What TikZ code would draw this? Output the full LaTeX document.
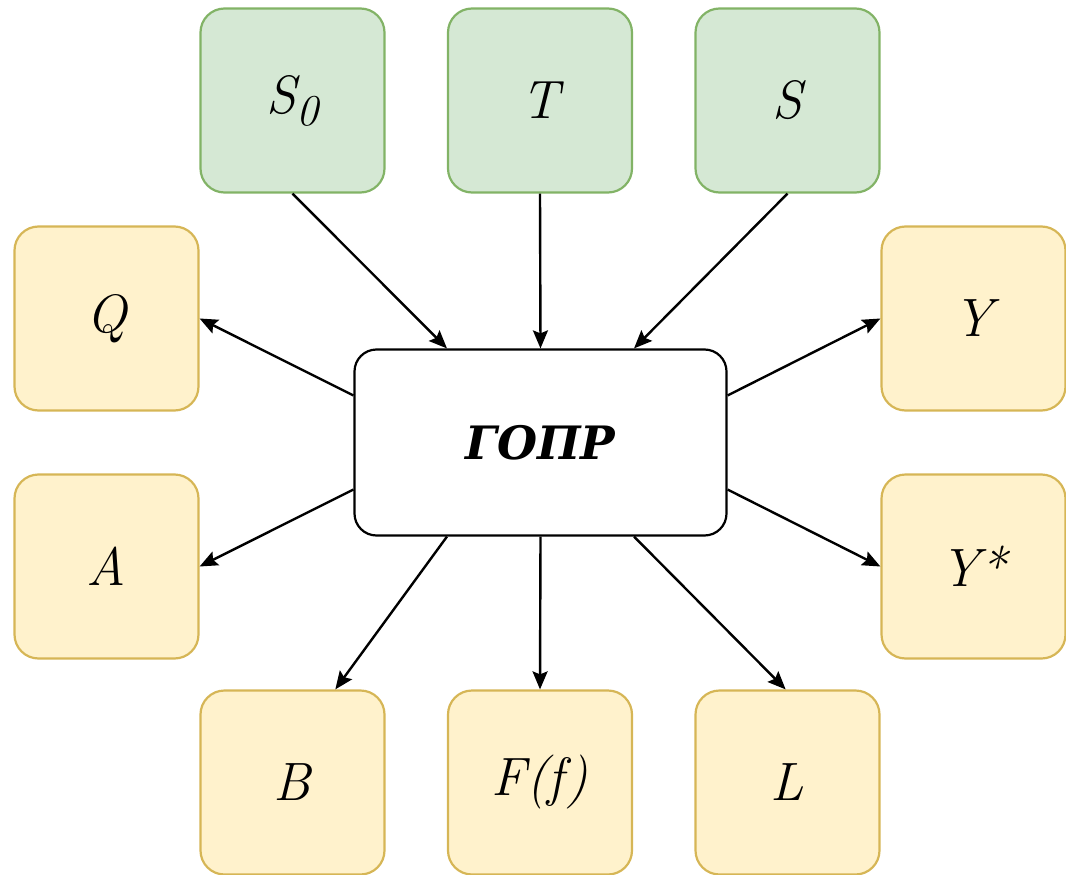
\documentclass[tikz,border=0pt]{standalone}
\usepackage{fontspec}
\newfontfamily\cyrfont{DejaVu Serif}
\usetikzlibrary{arrows.meta,calc}
\definecolor{gin}{HTML}{D5E8D4}
\definecolor{gdraw}{HTML}{82B366}
\definecolor{yin}{HTML}{FFF2CC}
\definecolor{ydraw}{HTML}{D6B656}
\begin{document}
\begin{tikzpicture}[x=1pt,y=-1pt,
  box/.style={rounded corners=24pt, minimum width=184pt, minimum height=184pt, line width=2.2pt, inner sep=0pt,
    font=\itshape\fontsize{54}{60}\selectfont},
  inbox/.style={box, fill=gin, draw=gdraw},
  outbox/.style={box, fill=yin, draw=ydraw},
  core/.style={rounded corners=22pt, minimum width=372pt, minimum height=186pt, draw=black, line width=2.2pt,
    fill=white, inner sep=0pt, font=\cyrfont\bfseries\itshape\fontsize{46}{60}\selectfont},
  conn/.style={line width=2.4pt, -{Stealth[length=18pt,width=15pt,inset=3pt]}}]
\useasboundingbox (0,0) rectangle (1066,875);
% input boxes
\node[inbox] (s0) at (292.5,100.5) {S\raisebox{-12pt}{\fontsize{44}{44}\selectfont 0}};
\node[inbox] (t)  at (540,100.5) {T};
\node[inbox] (s)  at (787.5,100.5) {S};
% output boxes
\node[outbox] (q)  at (106.5,318.5) {Q};
\node[outbox] (a)  at (106.5,566.5) {A};
\node[outbox] (y)  at (973.5,318.5) {Y};
\node[outbox] (ys) at (973.5,566.5) {Y*};
\node[outbox] (b)  at (292.5,782.5) {B};
\node[outbox] (f)  at (540,782.5) {F(f)};
\node[outbox] (l)  at (787.5,782.5) {L};
% core
\node[core] (c) at (540.5,442.5) {ГОПР};
% connectors in
\draw[conn] (s0.south) -- ($(c.north west)!0.25!(c.north east)$);
\draw[conn] (t.south) -- (c.north);
\draw[conn] (s.south) -- ($(c.north west)!0.75!(c.north east)$);
% connectors out
\draw[conn] ($(c.north west)!0.25!(c.south west)$) -- (q.east);
\draw[conn] ($(c.north west)!0.75!(c.south west)$) -- (a.east);
\draw[conn] ($(c.north east)!0.25!(c.south east)$) -- (y.west);
\draw[conn] ($(c.north east)!0.75!(c.south east)$) -- (ys.west);
\draw[conn] ($(c.south west)!0.25!(c.south east)$) -- ($(b.north west)!0.73!(b.north east)$);
\draw[conn] (c.south) -- (f.north);
\draw[conn] ($(c.south west)!0.75!(c.south east)$) -- ($(l.north west)!0.49!(l.north east)$);
\end{tikzpicture}
\end{document}
